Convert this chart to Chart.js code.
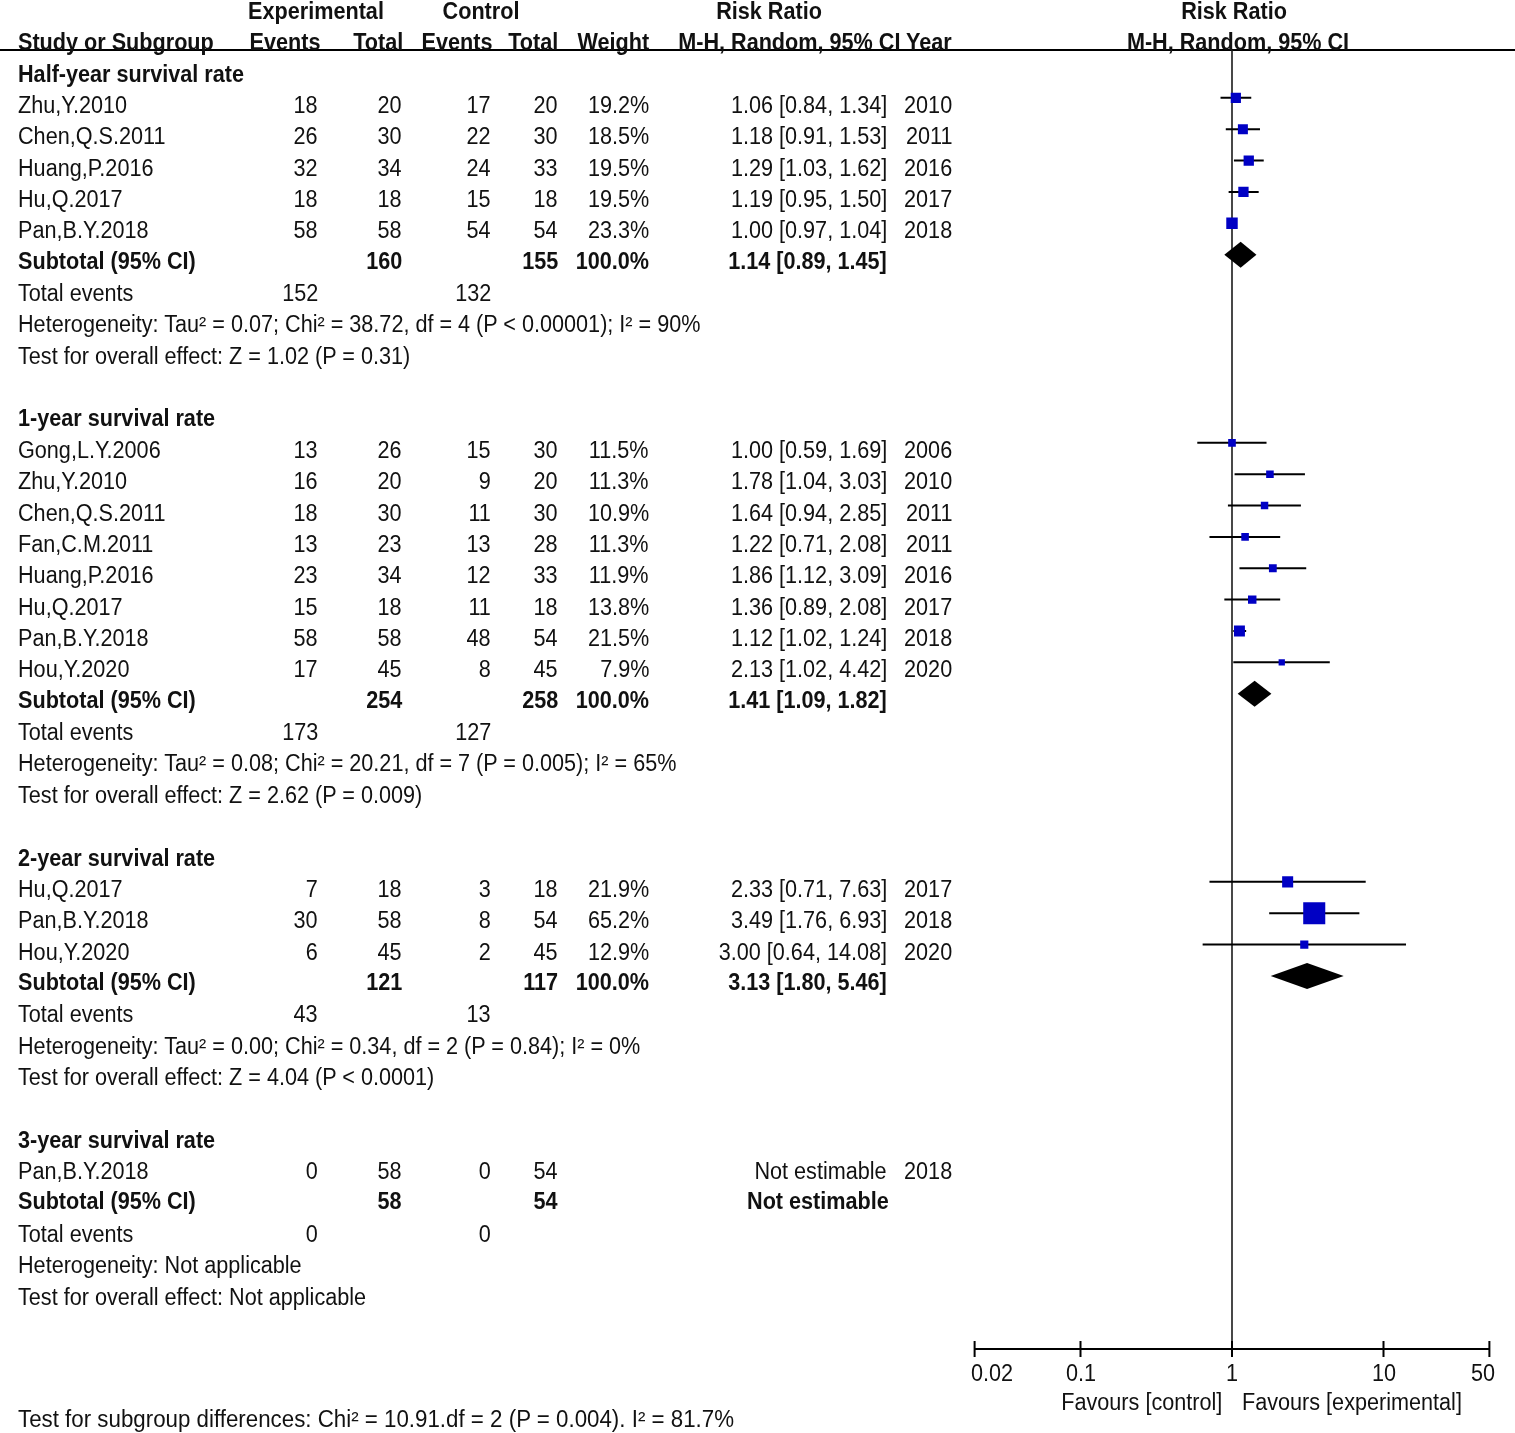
<!DOCTYPE html>
<html>
<head>
<meta charset="utf-8">
<script src="https://cdn.jsdelivr.net/npm/chart.js@4.4.1/dist/chart.umd.min.js"></script>
<style>
body { margin: 0; background: #fff; }
#wrap { position: relative; width: 1515px; height: 1433px; overflow: hidden; }
#wrap canvas { position: absolute; left: 0; top: 0; }
.t { position: absolute; white-space: nowrap; font-family: "Liberation Sans", Arial, sans-serif; font-size: 23px; line-height: 23px; color: #111; }
.b { font-weight: bold; }
</style>
</head>
<body>
<div id="wrap"><canvas id="chart" width="1515" height="1433"></canvas></div>
<script>
// ---- data ----
var groupNames = ['Half-year survival rate', '1-year survival rate', '2-year survival rate', '3-year survival rate'];
var groupOf = [0, 0, 0, 0, 0, 1, 1, 1, 1, 1, 1, 1, 1, 2, 2, 2, 3];
var studies = ['Zhu,Y.2010', 'Chen,Q.S.2011', 'Huang,P.2016', 'Hu,Q.2017', 'Pan,B.Y.2018',
  'Gong,L.Y.2006', 'Zhu,Y.2010', 'Chen,Q.S.2011', 'Fan,C.M.2011', 'Huang,P.2016', 'Hu,Q.2017', 'Pan,B.Y.2018', 'Hou,Y.2020',
  'Hu,Q.2017', 'Pan,B.Y.2018', 'Hou,Y.2020',
  'Pan,B.Y.2018'];
var expEvents = [18, 26, 32, 18, 58, 13, 16, 18, 13, 23, 15, 58, 17, 7, 30, 6, 0];
var expTotal = [20, 30, 34, 18, 58, 26, 20, 30, 23, 34, 18, 58, 45, 18, 58, 45, 58];
var ctrlEvents = [17, 22, 24, 15, 54, 15, 9, 11, 13, 12, 11, 48, 8, 3, 8, 2, 0];
var ctrlTotal = [20, 30, 33, 18, 54, 30, 20, 30, 28, 33, 18, 54, 45, 18, 54, 45, 54];
var weights = [19.2, 18.5, 19.5, 19.5, 23.3, 11.5, 11.3, 10.9, 11.3, 11.9, 13.8, 21.5, 7.9, 21.9, 65.2, 12.9, null];
var rr = [1.06, 1.18, 1.29, 1.19, 1.00, 1.00, 1.78, 1.64, 1.22, 1.86, 1.36, 1.12, 2.13, 2.33, 3.49, 3.00, null];
var rrLow = [0.84, 0.91, 1.03, 0.95, 0.97, 0.59, 1.04, 0.94, 0.71, 1.12, 0.89, 1.02, 1.02, 0.71, 1.76, 0.64, null];
var rrHigh = [1.34, 1.53, 1.62, 1.50, 1.04, 1.69, 3.03, 2.85, 2.08, 3.09, 2.08, 1.24, 4.42, 7.63, 6.93, 14.08, null];
var years = [2010, 2011, 2016, 2017, 2018, 2006, 2010, 2011, 2011, 2016, 2017, 2018, 2020, 2017, 2018, 2020, 2018];

var subExpTotal = [160, 254, 121, 58];
var subCtrlTotal = [155, 258, 117, 54];
var subExpEvents = [152, 173, 43, 0];
var subCtrlEvents = [132, 127, 13, 0];
var subRR = [1.14, 1.41, 3.13, null];
var subLow = [0.89, 1.09, 1.80, null];
var subHigh = [1.45, 1.82, 5.46, null];
var heterogeneity = [
  'Heterogeneity: Tau² = 0.07; Chi² = 38.72, df = 4 (P < 0.00001); I² = 90%',
  'Heterogeneity: Tau² = 0.08; Chi² = 20.21, df = 7 (P = 0.005); I² = 65%',
  'Heterogeneity: Tau² = 0.00; Chi² = 0.34, df = 2 (P = 0.84); I² = 0%',
  'Heterogeneity: Not applicable'];
var overallEffect = [
  'Test for overall effect: Z = 1.02 (P = 0.31)',
  'Test for overall effect: Z = 2.62 (P = 0.009)',
  'Test for overall effect: Z = 4.04 (P < 0.0001)',
  'Test for overall effect: Not applicable'];
var subgroupTest = 'Test for subgroup differences: Chi² = 10.91.df = 2 (P = 0.004). I² = 81.7%';
var tickValues = [0.02, 0.1, 1, 10, 50];

// ---- layout ----
var W = 1515, H = 1433;
var plotTop = 50, axisY = 1349;
var rowPitch = 31.36, row0 = 66.5;    // marker centre of the first row
var xOne = 1232, decade = 151.5;      // pixel of RR = 1, pixels per decade
var xLeft = xOne + Math.log10(tickValues[0]) * decade;
var xRight = xOne + Math.log10(tickValues[tickValues.length - 1]) * decade;
var sx = 0.94;                        // condense the text a little

// assign row numbers
var studyRow = [], subRow = [], groupRow = [], totRow = [];
var r = 0;
groupNames.forEach(function (g, gi) {
  groupRow[gi] = r++;
  groupOf.forEach(function (gg, i) { if (gg === gi) studyRow[i] = r++; });
  subRow[gi] = r++;
  totRow[gi] = r;
  r += 4;
});

// box side grows with study weight
function boxSide(w) { return 2 + 0.95 * Math.pow(w, 0.73); }

var squares = [], sizes = [];
var datasets = [];
studies.forEach(function (s, i) {
  if (rr[i] === null) return;
  squares.push({ x: rr[i], y: studyRow[i] });
  sizes.push(boxSide(weights[i]) / Math.SQRT2);
  datasets.push({
    data: [{ x: rrLow[i], y: studyRow[i] }, { x: rrHigh[i], y: studyRow[i] }],
    showLine: true, borderColor: '#000', borderWidth: 2, pointRadius: 0, order: 1
  });
});
datasets.unshift({
  data: squares, pointStyle: 'rect', pointRadius: sizes,
  backgroundColor: '#0000c4', borderColor: '#0000c4', borderWidth: 0, order: 0
});

var extras = {
  id: 'forestExtras',
  beforeDatasetsDraw: function (chart) {
    var x = chart.scales.x, a = chart.chartArea, ctx = chart.ctx;
    ctx.save();
    ctx.strokeStyle = '#000';
    ctx.lineWidth = 2;
    ctx.beginPath(); ctx.moveTo(0, a.top); ctx.lineTo(chart.width, a.top); ctx.stroke();
    var x1 = x.getPixelForValue(1);
    ctx.lineWidth = 1.6;
    ctx.strokeStyle = '#1a1a1a';
    ctx.beginPath(); ctx.moveTo(x1, a.top); ctx.lineTo(x1, a.bottom); ctx.stroke();
    // axis with crossing ticks
    ctx.lineWidth = 2;
    ctx.strokeStyle = '#000';
    ctx.beginPath();
    ctx.moveTo(x.getPixelForValue(tickValues[0]), a.bottom);
    ctx.lineTo(x.getPixelForValue(tickValues[tickValues.length - 1]), a.bottom);
    tickValues.forEach(function (t) {
      var px = x.getPixelForValue(t);
      ctx.moveTo(px, a.bottom - 8); ctx.lineTo(px, a.bottom + 8);
    });
    ctx.stroke();
    ctx.restore();
  },
  afterDatasetsDraw: function (chart) {
    // pooled estimates as diamonds
    var x = chart.scales.x, y = chart.scales.y, ctx = chart.ctx;
    ctx.save();
    ctx.fillStyle = '#000';
    subRR.forEach(function (v, gi) {
      if (v === null) return;
      var yc = y.getPixelForValue(subRow[gi]);
      ctx.beginPath();
      ctx.moveTo(x.getPixelForValue(subLow[gi]), yc);
      ctx.lineTo(x.getPixelForValue(v), yc - 13);
      ctx.lineTo(x.getPixelForValue(subHigh[gi]), yc);
      ctx.lineTo(x.getPixelForValue(v), yc + 13);
      ctx.closePath();
      ctx.fill();
    });
    ctx.restore();
  }
};

var chart = new Chart(document.getElementById('chart'), {
  type: 'scatter',
  data: { datasets: datasets },
  options: {
    responsive: false,
    animation: false,
    events: [],
    layout: { padding: { left: xLeft, right: W - xRight, top: plotTop, bottom: H - axisY } },
    plugins: { legend: { display: false }, tooltip: { enabled: false } },
    scales: {
      x: { type: 'logarithmic', min: tickValues[0], max: tickValues[tickValues.length - 1], display: false },
      y: { type: 'linear', reverse: true, min: (plotTop - row0) / rowPitch, max: (axisY - row0) / rowPitch, display: false }
    }
  },
  plugins: [extras]
});

// ---- table text ----
var wrap = document.getElementById('wrap');

// where the baseline falls inside a text box
var probe = document.createElement('div');
probe.className = 't';
probe.style.top = '0px';
probe.innerHTML = 'X<span style="display:inline-block;width:0;height:0;vertical-align:baseline"></span>';
wrap.appendChild(probe);
var baseOff = probe.lastChild.getBoundingClientRect().top - probe.getBoundingClientRect().top;
wrap.removeChild(probe);

function put(str, x, base, align, bold, scale) {
  var s = scale || sx;
  var d = document.createElement('div');
  d.className = 't' + (bold ? ' b' : '');
  d.textContent = str;
  d.style.top = (base - baseOff) + 'px';
  if (align === 'right') {
    d.style.right = (W - x) + 'px';
    d.style.transformOrigin = 'right';
    d.style.transform = 'scaleX(' + s + ')';
  } else if (align === 'center') {
    d.style.left = x + 'px';
    d.style.transform = 'translateX(-50%) scaleX(' + s + ')';
  } else {
    d.style.left = x + 'px';
    d.style.transformOrigin = 'left';
    d.style.transform = 'scaleX(' + s + ')';
  }
  wrap.appendChild(d);
}

var yS = chart.scales.y, xS = chart.scales.x;
function base(row) { return yS.getPixelForValue(row) + 15; }
var col = { study: 18, expEv: 318, expTot: 402, ctrlEv: 491, ctrlTot: 558, weight: 649, ci: 887, year: 952 };

// headers
put('Experimental', 316, base(-2), 'center', true);
put('Control', 481, base(-2), 'center', true);
put('Risk Ratio', 769, base(-2), 'center', true);
put('Risk Ratio', xS.getPixelForValue(1) + 2, base(-2), 'center', true);
put('Study or Subgroup', col.study, base(-1), 'left', true);
put('Events', 320, base(-1), 'right', true);
put('Total', 403, base(-1), 'right', true);
put('Events', 492, base(-1), 'right', true);
put('Total', 558, base(-1), 'right', true);
put('Weight', 649, base(-1), 'right', true);
put('M-H, Random, 95% CI', 900, base(-1), 'right', true);
put('Year', 952, base(-1), 'right', true);
put('M-H, Random, 95% CI', xS.getPixelForValue(1) + 6, base(-1), 'center', true);

function ci(v, lo, hi) { return v.toFixed(2) + ' [' + lo.toFixed(2) + ', ' + hi.toFixed(2) + ']'; }

groupNames.forEach(function (g, gi) {
  put(g, col.study, base(groupRow[gi]), 'left', true);
  groupOf.forEach(function (gg, i) {
    if (gg !== gi) return;
    var b = base(studyRow[i]);
    put(studies[i], col.study, b, 'left');
    put(String(expEvents[i]), col.expEv, b, 'right');
    put(String(expTotal[i]), col.expTot, b, 'right');
    put(String(ctrlEvents[i]), col.ctrlEv, b, 'right');
    put(String(ctrlTotal[i]), col.ctrlTot, b, 'right');
    if (weights[i] !== null) put(weights[i].toFixed(1) + '%', col.weight, b, 'right');
    put(rr[i] === null ? 'Not estimable' : ci(rr[i], rrLow[i], rrHigh[i]), col.ci, b, 'right');
    put(String(years[i]), col.year, b, 'right');
  });
  var sb = base(subRow[gi]) - 1;
  put('Subtotal (95% CI)', col.study, sb, 'left', true);
  put(String(subExpTotal[gi]), col.expTot, sb, 'right', true);
  put(String(subCtrlTotal[gi]), col.ctrlTot, sb, 'right', true);
  if (subRR[gi] !== null) {
    put('100.0%', col.weight, sb, 'right', true);
    put(ci(subRR[gi], subLow[gi], subHigh[gi]), col.ci, sb, 'right', true);
  } else {
    put('Not estimable', col.ci + 2, sb, 'right', true);
  }
  put('Total events', col.study, base(totRow[gi]), 'left');
  put(String(subExpEvents[gi]), col.expEv, base(totRow[gi]), 'right');
  put(String(subCtrlEvents[gi]), col.ctrlEv, base(totRow[gi]), 'right');
  put(heterogeneity[gi], col.study, base(totRow[gi] + 1), 'left');
  put(overallEffect[gi], col.study, base(totRow[gi] + 2), 'left');
});

// axis labels
tickValues.forEach(function (t) {
  put(String(t), xS.getPixelForValue(t) + (t === 0.02 ? 17 : t === 50 ? -6 : 0), axisY + 32, 'center');
});
put('Favours [control]', xS.getPixelForValue(1) - 10, axisY + 61, 'right');
put('Favours [experimental]', xS.getPixelForValue(1) + 10, axisY + 61, 'left');
put(subgroupTest, col.study, 1427, 'left', false, 0.97);
</script>
</body>
</html>
